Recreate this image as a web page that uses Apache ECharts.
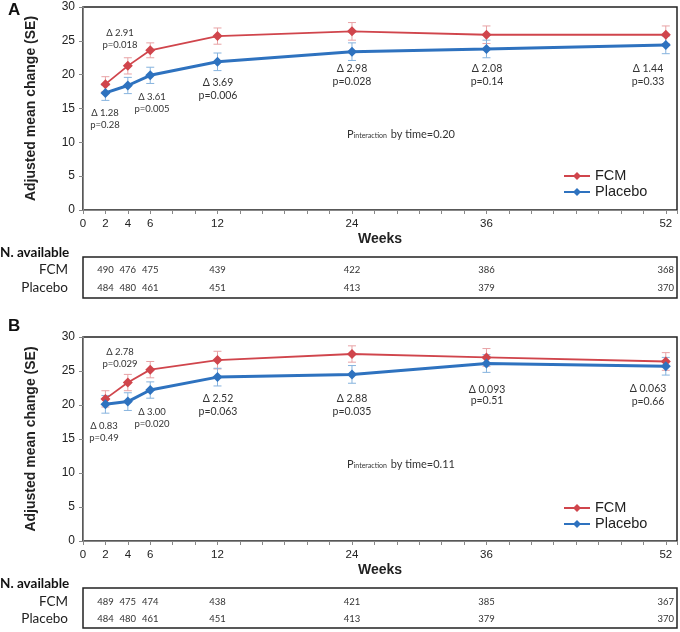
<!DOCTYPE html>
<html>
<head>
<meta charset="utf-8">
<script src="https://cdn.jsdelivr.net/npm/echarts@6/dist/echarts.min.js"></script>
<style>
  html, body { margin: 0; padding: 0; background: #fff; }
  #chart { width: 680px; height: 632px; }
</style>
</head>
<body>
<div id="chart"></div>
<script>
// data
const weeks = [2, 4, 6, 12, 24, 36, 52];
const weekLabels = [0, 2, 4, 6, 12, 24, 36, 52];
const rows = ['FCM', 'Placebo'];

const fcmA = [18.6, 21.3, 23.6, 25.7, 26.4, 25.9, 25.9];
const fcmSeA = [1.1, 1.2, 1.1, 1.2, 1.3, 1.3, 1.3];
const placeboA = [17.3, 18.4, 19.9, 21.9, 23.4, 23.8, 24.4];
const placeboSeA = [1.1, 1.2, 1.2, 1.3, 1.3, 1.3, 1.3];
const nFcmA = [490, 476, 475, 439, 422, 386, 368];
const nPlaceboA = [484, 480, 461, 451, 413, 379, 370];

const fcmB = [20.9, 23.3, 25.2, 26.6, 27.5, 27.0, 26.4];
const fcmSeB = [1.2, 1.2, 1.2, 1.3, 1.2, 1.3, 1.3];
const placeboB = [20.1, 20.5, 22.2, 24.1, 24.5, 26.1, 25.7];
const placeboSeB = [1.3, 1.3, 1.2, 1.3, 1.3, 1.3, 1.3];
const nFcmB = [489, 475, 474, 438, 421, 385, 367];
const nPlaceboB = [484, 480, 461, 451, 413, 379, 370];

const notesA = ['Δ 2.91\np=0.018', 'Δ 1.28\np=0.28', 'Δ 3.61\np=0.005', 'Δ 3.69\np=0.006',
  'Δ 2.98\np=0.028', 'Δ 2.08\np=0.14', 'Δ 1.44\np=0.33'];
const notesB = ['Δ 2.78\np=0.029', 'Δ 0.83\np=0.49', 'Δ 3.00\np=0.020', 'Δ 2.52\np=0.063',
  'Δ 2.88\np=0.035', 'Δ 0.093\np=0.51', 'Δ 0.063\np=0.66'];
const pInterA = '0.20';
const pInterB = '0.11';

const RED = '#d0454c';
const BLUE = '#2e72bf';
const RED_ERR = '#e8a2a5';
const BLUE_ERR = '#86b3de';
const AX = 'Liberation Sans, Arial, sans-serif';
const CAL = 'Lato, Open Sans, sans-serif';

const chart = echarts.init(document.getElementById('chart'));

function zip(xs, ys, extra) {
  return xs.map((x, i) => extra ? [x, ys[i], extra[i]] : [x, ys[i]]);
}

function errSeries(xi, yi, vals, ses, color) {
  return {
    type: 'custom', xAxisIndex: xi, yAxisIndex: yi, z: 1, silent: true,
    data: zip(weeks, vals, ses),
    renderItem: (params, api) => {
      const x = api.value(0), y = api.value(1), se = api.value(2);
      const top = api.coord([x, y + se]);
      const bot = api.coord([x, y - se]);
      const st = { stroke: color, lineWidth: 1 };
      return {
        type: 'group', children: [
          { type: 'line', shape: { x1: top[0], y1: top[1], x2: bot[0], y2: bot[1] }, style: st },
          { type: 'line', shape: { x1: top[0] - 4, y1: top[1], x2: top[0] + 4, y2: top[1] }, style: st },
          { type: 'line', shape: { x1: bot[0] - 4, y1: bot[1], x2: bot[0] + 4, y2: bot[1] }, style: st }
        ]
      };
    }
  };
}

function lineSeries(name, xi, yi, vals, color, w) {
  return {
    name: name, type: 'line', xAxisIndex: xi, yAxisIndex: yi, z: 3,
    data: zip(weeks, vals), symbol: 'diamond', symbolSize: 10,
    lineStyle: { color: color, width: w }, itemStyle: { color: color }
  };
}

function tableSeries(xi, yi, nF, nP) {
  const d = [];
  weeks.forEach((w, i) => { d.push([w, 'FCM', nF[i]]); d.push([w, 'Placebo', nP[i]]); });
  return {
    type: 'custom', xAxisIndex: xi, yAxisIndex: yi, silent: true, data: d,
    renderItem: (params, api) => {
      const p = api.coord([api.value(0), api.value(1)]);
      return {
        type: 'text', x: p[0], y: p[1],
        style: { text: String(api.value(2)), align: 'center', verticalAlign: 'middle',
          font: '9.5px ' + CAL, fill: '#333' }
      };
    }
  };
}

function plotX(gi) {
  return {
    gridIndex: gi, type: 'value', min: 0, max: 53, interval: 2,
    name: 'Weeks', nameLocation: 'middle', nameGap: 22,
    nameTextStyle: { fontFamily: AX, fontWeight: 'bold', fontSize: 14, color: '#222' },
    axisLine: { lineStyle: { color: '#888' } },
    axisTick: { show: true, length: 4, lineStyle: { color: '#888' } },
    splitLine: { show: false },
    axisLabel: {
      fontFamily: AX, fontSize: 11.5, color: '#222', margin: 8,
      formatter: v => weekLabels.indexOf(v) >= 0 ? String(v) : ''
    }
  };
}

function plotY(gi) {
  return {
    gridIndex: gi, type: 'value', min: 0, max: 30, interval: 5,
    name: 'Adjusted mean change (SE)', nameLocation: 'middle', nameGap: 45,
    nameTextStyle: { fontFamily: AX, fontWeight: 'bold', fontSize: 14, color: '#222' },
    axisLine: { show: true, lineStyle: { color: '#888' } },
    axisTick: { show: true, length: 4, lineStyle: { color: '#888' } },
    splitLine: { show: false },
    axisLabel: { fontFamily: AX, fontSize: 12, color: '#222', margin: 8 }
  };
}

function tableX(gi) {
  return { gridIndex: gi, type: 'value', min: 0, max: 53, show: false };
}

function tableY(gi) {
  return {
    gridIndex: gi, type: 'category', data: rows, inverse: true, boundaryGap: false,
    axisLine: { show: false }, axisTick: { show: false }, splitLine: { show: false },
    axisLabel: { fontFamily: CAL, fontSize: 13.5, color: '#222', margin: 15,
      interval: 0, showMinLabel: true, showMaxLabel: true, hideOverlap: false }
  };
}

function noteTexts(notes, pos, size) {
  return notes.map((t, i) => ({
    type: 'text', x: pos[i][0], y: pos[i][1],
    style: { text: t, align: 'center', verticalAlign: 'top', font: size[i] + 'px ' + CAL,
      fill: '#333', lineHeight: pos[i][2] }
  }));
}

function pInter(y, val) {
  return {
    type: 'text', x: 347, y: y,
    style: {
      text: '{p|P}{s|interaction}{p| by time=' + val + '}',
      rich: {
        p: { fontFamily: CAL, fontSize: 11, fill: '#333', verticalAlign: 'bottom' },
        s: { fontFamily: CAL, fontSize: 7, fill: '#333', padding: [6, 1, 0, 0], verticalAlign: 'bottom' }
      },
      verticalAlign: 'middle'
    }
  };
}

function legendAt(top) {
  return {
    left: 563, top: top, padding: 0, orient: 'vertical', itemWidth: 26, itemHeight: 10, itemGap: 0,
    data: ['FCM', 'Placebo'],
    textStyle: { fontFamily: AX, fontSize: 14.5, color: '#222', lineHeight: 16 }
  };
}

function tableBox(y, h) {
  return { type: 'rect', shape: { x: 83, y: y, width: 594, height: h }, silent: true,
    style: { fill: 'none', stroke: '#222', lineWidth: 1.5 } };
}

const posA = [[120, 27, 12], [105, 107, 12], [152, 91, 12], [218, 76, 13], [352, 62, 13], [487, 62, 13], [648, 62, 13]];
const posB = [[120, 346, 12], [104, 420, 12], [152, 406, 12], [218, 392, 13], [352, 392, 13], [487, 384, 11], [648, 382, 13]];
const sizes = [9.5, 9.5, 9.5, 10.5, 10.5, 10.5, 10.5];

const option = {
  animation: false,
  backgroundColor: '#fff',
  grid: [
    { left: 83, top: 7, width: 594, height: 203, show: true, borderColor: '#222', borderWidth: 1.5 },
    { left: 83, top: 270, width: 594, height: 18 },
    { left: 83, top: 337, width: 594, height: 204, show: true, borderColor: '#222', borderWidth: 1.5 },
    { left: 83, top: 602, width: 594, height: 17 }
  ],
  xAxis: [plotX(0), tableX(1), plotX(2), tableX(3)],
  yAxis: [plotY(0), tableY(1), plotY(2), tableY(3)],
  legend: [legendAt(168), legendAt(500)],
  series: [
    errSeries(0, 0, fcmA, fcmSeA, RED_ERR),
    errSeries(0, 0, placeboA, placeboSeA, BLUE_ERR),
    lineSeries('FCM', 0, 0, fcmA, RED, 1.8),
    lineSeries('Placebo', 0, 0, placeboA, BLUE, 3),
    tableSeries(1, 1, nFcmA, nPlaceboA),
    errSeries(2, 2, fcmB, fcmSeB, RED_ERR),
    errSeries(2, 2, placeboB, placeboSeB, BLUE_ERR),
    lineSeries('FCM', 2, 2, fcmB, RED, 1.8),
    lineSeries('Placebo', 2, 2, placeboB, BLUE, 3),
    tableSeries(3, 3, nFcmB, nPlaceboB)
  ],
  graphic: [
    { type: 'text', left: 8, top: 2, style: { text: 'A', font: 'bold 17px ' + AX, fill: '#111' } },
    { type: 'text', left: 8, top: 318, style: { text: 'B', font: 'bold 17px ' + AX, fill: '#111' } },
    { type: 'text', left: 0, top: 246, style: { text: 'N. available', font: 'bold 13.5px ' + CAL, fill: '#111' } },
    { type: 'text', left: 0, top: 577, style: { text: 'N. available', font: 'bold 13.5px ' + CAL, fill: '#111' } },
    tableBox(257, 41),
    tableBox(588, 40),
    pInter(133, pInterA),
    pInter(463, pInterB)
  ].concat(noteTexts(notesA, posA, sizes), noteTexts(notesB, posB, sizes))
};

chart.setOption(option);
</script>
</body>
</html>
